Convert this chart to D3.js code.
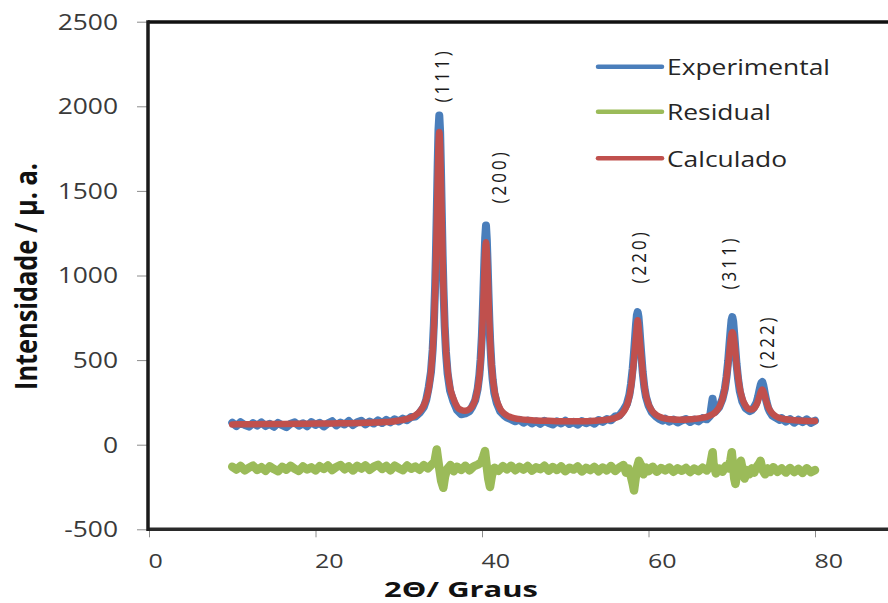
<!DOCTYPE html>
<html><head><meta charset="utf-8">
<script src="https://cdn.jsdelivr.net/npm/d3@7"></script>
<style>body{margin:0;background:#fff} svg{display:block} text{font-family:"Open Sans",sans-serif}</style>
</head><body><svg id="c" width="888" height="603"></svg>
<script>
const xTicks=[0,20,40,60,80];
const yTicks=[-500,0,500,1000,1500,2000,2500];
const seriesNames=["Experimental","Residual","Calculado"];
const seriesColors=["#4a7ebb","#9bbb59","#c0504d"];
const peakLabels=["(111)","(200)","(220)","(311)","(222)"];
const peakLabelX=[35.07,41.92,58.75,69.56,74.1];
const peakLabelY=[2183,1586,1113,1077,610];

const experimental=[[10,130],[10.5,110],[11,133],[11.5,116],[12,107],[12.5,128],[13,113],[13.5,132],[14,110],[14.5,123],[15,106],[15.5,129],[16,115],[16.5,103],[17,124],[17.5,132],[18,112],[18.5,127],[19,109],[19.5,134],[20,117],[20.5,130],[21,108],[21.5,126],[22,139],[22.5,114],[23,131],[23.5,119],[24,140],[24.5,116],[25,133],[25.5,142],[26,120],[26.5,137],[27,125],[27.5,144],[28,128],[28.5,147],[29,132],[29.5,150],[30,137],[30.5,154],[31,145],[31.5,164],[32,166],[32.5,188],[33,222],[33.3,265],[33.6,340],[33.87,430],[34.07,560],[34.22,715],[34.37,940],[34.47,1140],[34.57,1380],[34.67,1640],[34.77,1860],[34.87,1946],[34.97,1850],[35.07,1630],[35.17,1370],[35.27,1120],[35.37,925],[35.52,700],[35.67,548],[35.87,420],[36.17,318],[36.57,255],[37,205],[37.5,180],[38,185],[38.5,198],[38.78,220],[39.18,262],[39.48,330],[39.68,410],[39.83,505],[39.98,640],[40.08,770],[40.18,920],[40.28,1080],[40.38,1220],[40.48,1296],[40.58,1210],[40.68,1060],[40.78,890],[40.88,738],[40.98,612],[41.13,475],[41.28,385],[41.48,305],[41.78,245],[42.18,198],[42.68,172],[43,160],[43.5,150],[44,138],[44.5,148],[45,130],[45.5,143],[46,126],[46.5,139],[47,123],[47.5,141],[48,128],[48.5,119],[49,138],[49.5,125],[50,142],[50.5,122],[51,135],[51.5,118],[52,140],[52.5,127],[53,137],[53.5,124],[54,146],[54.5,135],[55,152],[55.5,144],[56,167],[56.5,172],[57,205],[57.4,240],[57.7,295],[57.9,360],[58.1,450],[58.25,540],[58.4,640],[58.5,710],[58.6,765],[58.7,784],[58.8,755],[58.9,695],[59,625],[59.15,525],[59.3,430],[59.5,340],[59.7,282],[60,232],[60.4,192],[60.9,166],[61.3,152],[61.7,142],[62,154],[62.5,136],[63,148],[63.5,131],[64,143],[64.5,152],[65,134],[65.5,149],[66,138],[66.5,157],[67,150],[67.4,170],[67.6,240],[67.7,272],[67.8,230],[67.97,192],[68.47,220],[68.87,268],[69.17,330],[69.37,400],[69.57,495],[69.72,590],[69.87,680],[69.97,735],[70.07,754],[70.17,730],[70.27,670],[70.42,575],[70.57,480],[70.77,385],[70.97,315],[71.27,255],[71.67,215],[72.17,198],[72.4,205],[72.67,220],[72.97,248],[73.17,285],[73.32,320],[73.47,352],[73.57,366],[73.67,370],[73.77,355],[73.87,330],[74.02,290],[74.17,255],[74.37,218],[74.57,195],[74.87,172],[75.27,160],[75.77,146],[76,157],[76.5,136],[77,152],[77.5,130],[78,148],[78.5,133],[79,150],[79.5,129],[80,142]];

const residual=[[10,-130],[10.5,-147],[11,-126],[11.5,-152],[12,-136],[12.5,-124],[13,-149],[13.5,-133],[14,-154],[14.5,-128],[15,-144],[15.5,-157],[16,-131],[16.5,-148],[17,-125],[17.5,-142],[18,-155],[18.5,-129],[19,-146],[19.5,-134],[20,-152],[20.5,-127],[21,-143],[21.5,-123],[22,-150],[22.5,-132],[23,-120],[23.5,-145],[24,-128],[24.5,-153],[25,-125],[25.5,-141],[26,-122],[26.5,-148],[27,-130],[27.5,-119],[28,-143],[28.5,-126],[29,-152],[29.5,-124],[30,-139],[30.5,-151],[31,-123],[31.5,-142],[32,-129],[32.5,-148],[33,-121],[33.5,-140],[34,-116],[34.3,-100],[34.56,-28],[34.7,-80],[34.9,-150],[35.1,-215],[35.35,-255],[35.55,-190],[35.8,-145],[36.2,-120],[36.6,-157],[37,-130],[37.5,-149],[38,-124],[38.5,-152],[39,-128],[39.5,-118],[39.9,-105],[40.15,-70],[40.36,-38],[40.55,-120],[40.75,-200],[40.96,-250],[41.2,-180],[41.5,-136],[42,-154],[42.5,-127],[43,-146],[43.5,-124],[44,-151],[44.5,-131],[45,-147],[45.5,-126],[46,-153],[46.5,-134],[47,-145],[47.5,-125],[48,-154],[48.5,-132],[49,-149],[49.5,-128],[50,-157],[50.5,-136],[51,-147],[51.5,-129],[52,-158],[52.5,-137],[53,-150],[53.5,-131],[54,-157],[54.5,-135],[55,-152],[55.5,-126],[56,-155],[56.5,-134],[57,-120],[57.3,-165],[57.6,-140],[57.9,-190],[58.1,-230],[58.26,-270],[58.45,-200],[58.65,-130],[58.85,-95],[59.1,-120],[59.4,-175],[59.7,-135],[60,-157],[60.5,-130],[61,-160],[61.5,-138],[62,-152],[62.5,-135],[63,-160],[63.5,-140],[64,-154],[64.5,-137],[65,-162],[65.5,-141],[66,-156],[66.5,-136],[67,-152],[67.4,-125],[67.6,-70],[67.7,-44],[67.8,-110],[68.1,-170],[68.5,-140],[68.9,-160],[69.3,-125],[69.6,-140],[69.85,-90],[70,-44],[70.15,-120],[70.3,-200],[70.45,-232],[70.65,-170],[70.9,-140],[71.1,-95],[71.3,-145],[71.55,-200],[71.8,-150],[72.1,-175],[72.4,-140],[72.7,-165],[73,-130],[73.3,-110],[73.45,-95],[73.7,-150],[74,-175],[74.3,-140],[74.6,-162],[75,-133],[75.5,-160],[76,-140],[76.5,-165],[77,-137],[77.5,-162],[78,-143],[78.5,-167],[79,-139],[79.5,-162],[80,-150]];

const calculado=[[10,120],[12,121],[14,122],[16,123],[18,124],[20,125],[22,126],[24,127],[26,129],[27,131],[28,133],[29,136],[29.87,142],[30.87,151],[31.87,170],[32.67,205],[33.17,250],[33.57,322],[33.87,430],[34.07,555],[34.22,700],[34.37,910],[34.47,1100],[34.57,1325],[34.67,1565],[34.77,1768],[34.87,1848],[34.97,1770],[35.07,1568],[35.17,1330],[35.27,1105],[35.37,915],[35.52,706],[35.67,562],[35.87,440],[36.17,338],[36.57,272],[37.07,220],[37.5,205],[37.96,200],[38.5,210],[38.78,224],[39.18,266],[39.48,330],[39.68,405],[39.83,492],[39.98,620],[40.08,737],[40.18,873],[40.28,1024],[40.38,1148],[40.48,1197],[40.58,1146],[40.68,1022],[40.78,871],[40.88,733],[40.98,617],[41.13,488],[41.28,400],[41.48,324],[41.78,260],[42.18,212],[42.68,183],[43.48,162],[44.5,151],[46,145],[48,141],[50,138],[52,138],[53.7,142],[54.7,146],[55.7,154],[56.5,170],[57,195],[57.4,232],[57.7,285],[57.9,340],[58.1,425],[58.25,505],[58.4,590],[58.5,645],[58.6,700],[58.7,735],[58.8,703],[58.9,648],[59,593],[59.15,508],[59.3,428],[59.5,345],[59.7,290],[60,240],[60.4,202],[60.9,177],[61.7,158],[62.7,150],[63.7,147],[65.07,150],[66.27,157],[67.27,170],[67.97,190],[68.47,220],[68.87,268],[69.17,330],[69.37,394],[69.57,478],[69.72,552],[69.87,622],[69.97,654],[70.07,665],[70.17,655],[70.27,625],[70.42,556],[70.57,482],[70.77,397],[70.97,333],[71.27,273],[71.67,230],[72.17,209],[72.4,208],[72.67,215],[72.97,236],[73.17,261],[73.32,286],[73.47,310],[73.57,321],[73.67,326],[73.77,319],[73.87,307],[74.02,281],[74.17,254],[74.37,225],[74.57,205],[74.87,185],[75.27,169],[75.77,158],[76.47,150],[77.5,145],[78.5,142],[80,140]];

const svg=d3.select("#c");
const x=d3.scaleLinear().domain([0,100]).range([149,981.5]);
const y=d3.scaleLinear().domain([-500,2500]).range([529.3,21.7]);

// axes
const yAxis=svg.append("g").attr("transform","translate(148,0)")
  .call(d3.axisLeft(y).tickValues(yTicks).tickSize(11).tickFormat(d=>String(d)));
yAxis.select(".domain").remove();
yAxis.selectAll("line").attr("stroke","#8c8c8c");
yAxis.selectAll("text").attr("x",0).attr("dy","0.34em")
  .attr("transform","translate(-30,0) scale(1.2,1)")
  .attr("font-size",22).attr("fill","#3a3a3a").attr("font-family","Open Sans");

const xAxis=svg.append("g").attr("transform","translate(0,529.3)")
  .call(d3.axisBottom(x).tickValues(xTicks).tickSize(8).tickFormat(d=>String(d)));
xAxis.select(".domain").remove();
xAxis.selectAll("line").attr("stroke","#8c8c8c");
xAxis.selectAll("text").attr("x",0).attr("y",0).attr("dy",0)
  .attr("text-anchor","start")
  .attr("transform","translate(-1,38.5) scale(1.25,1)")
  .attr("font-size",20).attr("fill","#3a3a3a").attr("font-family","Open Sans");

// frame
svg.append("line").attr("x1",148).attr("x2",888).attr("y1",22).attr("y2",22).attr("stroke","#111").attr("stroke-width",3.5);
svg.append("line").attr("x1",148).attr("x2",888).attr("y1",y(-500)).attr("y2",y(-500)).attr("stroke","#2a2a2a").attr("stroke-width",3.5);
svg.append("line").attr("x1",148).attr("x2",148).attr("y1",20.3).attr("y2",531).attr("stroke","#1a1a1a").attr("stroke-width",3.5);

// series
const line=d3.line().x(d=>x(d[0])).y(d=>y(d[1]));
const lineSmooth=d3.line().x(d=>x(d[0])).y(d=>y(d[1])).curve(d3.curveMonotoneX);
const data=[experimental,residual,calculado];
const widths=[8,8.5,6.5];
data.forEach((s,i)=>{
  svg.append("path").datum(s)
    .attr("d",i===2?lineSmooth:line)
    .attr("fill","none").attr("stroke",seriesColors[i])
    .attr("stroke-width",widths[i]).attr("stroke-linejoin","round").attr("stroke-linecap","round");
});

// peak labels
peakLabels.forEach((t,i)=>{
  svg.append("text")
    .attr("transform",`translate(${x(peakLabelX[i])},${y(peakLabelY[i])}) rotate(-90) scale(1,1.2)`)
    .attr("text-anchor","middle").attr("dominant-baseline","central")
    .attr("font-size",17).attr("letter-spacing","3px").attr("fill","#1a1a1a")
    .text(t);
});

// legend
const legY=[66.7,111.7,158.3];
seriesNames.forEach((n,i)=>{
  svg.append("line").attr("x1",598).attr("x2",662).attr("y1",legY[i]).attr("y2",legY[i])
    .attr("stroke",seriesColors[i]).attr("stroke-width",4.5).attr("stroke-linecap","round");
  svg.append("text").attr("transform",`translate(667,${legY[i]+8.3}) scale(1.2,1)`)
    .attr("font-size",22).attr("fill","#262626").text(n);
});

// axis titles
svg.append("text").attr("transform","translate(37,276.5) rotate(-90) scale(1,1.2)")
  .attr("text-anchor","middle").attr("font-size",25).attr("font-weight","bold")
  .attr("textLength",227).attr("lengthAdjust","spacingAndGlyphs").attr("fill","#111")
  .text("Intensidade / µ. a.");
svg.append("text").attr("x",461).attr("y",596.5)
  .attr("text-anchor","middle").attr("font-size",21).attr("font-weight","bold")
  .attr("textLength",154).attr("lengthAdjust","spacingAndGlyphs").attr("fill","#111")
  .text("2Θ/ Graus");
</script></body></html>
